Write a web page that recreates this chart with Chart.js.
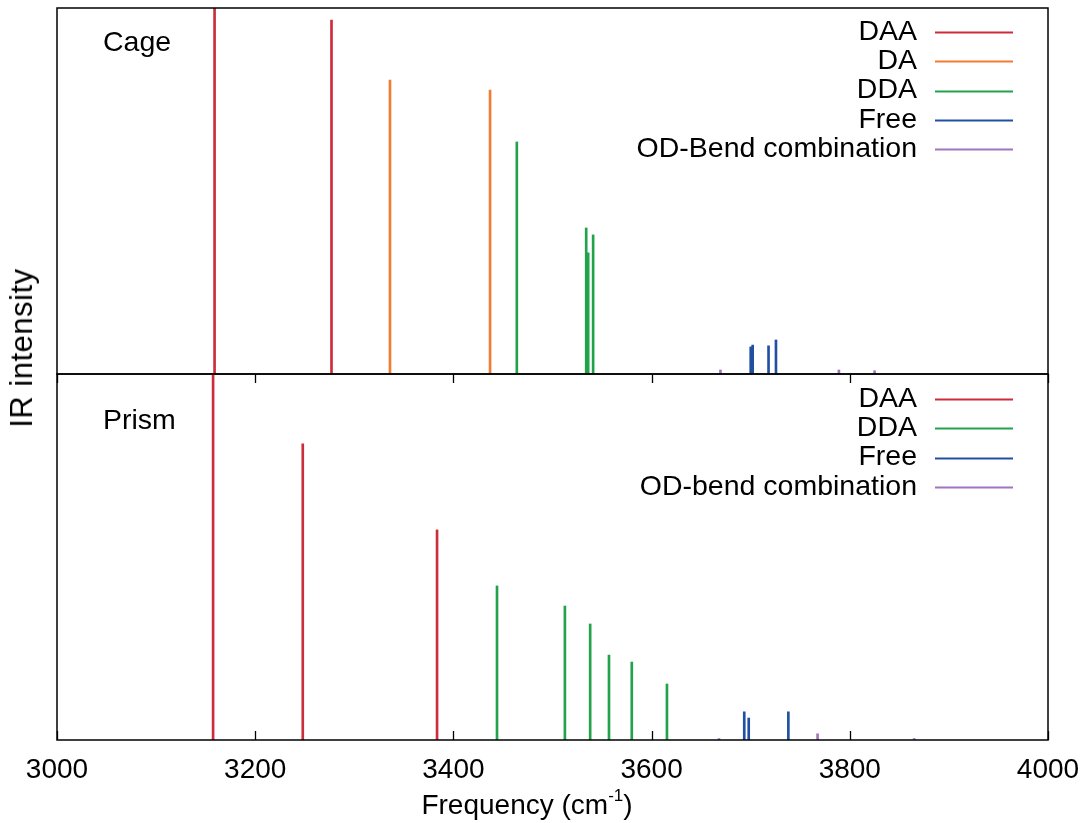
<!DOCTYPE html>
<html>
<head>
<meta charset="utf-8">
<script src="https://cdn.jsdelivr.net/npm/chart.js@4/dist/chart.umd.min.js"></script>
<style>
  body { margin: 0; background: #fff; }
  #wrap { position: relative; width: 1089px; height: 823px; font-family: "Liberation Sans", Arial, sans-serif; }
  canvas { position: absolute; left: 0; }
  #ylab { position: absolute; left: 22px; top: 348px; transform: translate(-50%, -50%) rotate(-90deg); font-size: 31px; letter-spacing: 0.5px; white-space: nowrap; color: #000; }
  #xlab { position: absolute; left: 527px; top: 805px; transform: translate(-50%, -50%); font-size: 28px; white-space: nowrap; color: #000; }
  #xlab sup { font-size: 17px; position: relative; top: -3px; }
</style>
</head>
<body>
<div id="wrap">
  <canvas id="top" width="1089" height="376" style="top:0"></canvas>
  <canvas id="bot" width="1089" height="451" style="top:372px"></canvas>
  <div id="ylab">IR intensity</div>
  <div id="xlab">Frequency (cm<sup>-1</sup>)</div>
</div>
<script>
// axe x commun
const xMin = 3000;
const xMax = 4000;
const xStep = 200;

// Cage
const cageDaaFreq = [3159, 3277];
const cageDaaInt = [1.0, 0.967];
const cageDaFreq = [3336, 3437];
const cageDaInt = [0.803, 0.776];
const cageDdaFreq = [3464, 3534, 3536, 3541];
const cageDdaInt = [0.634, 0.399, 0.331, 0.380];
const cageFreeFreq = [3700, 3702, 3718, 3725.5];
const cageFreeInt = [0.074, 0.079, 0.077, 0.093];
const cageBendFreq = [3669.5, 3789, 3825];
const cageBendInt = [0.011, 0.011, 0.009];

// Prism
const prismDaaFreq = [3157.5, 3248, 3383.5];
const prismDaaInt = [1.0, 0.809, 0.574];
const prismDdaFreq = [3444, 3512.5, 3538, 3557, 3580, 3615.5];
const prismDdaInt = [0.421, 0.366, 0.317, 0.232, 0.213, 0.153];
const prismFreeFreq = [3693.5, 3698, 3738];
const prismFreeInt = [0.077, 0.060, 0.077];
const prismBendFreq = [3668, 3767.5, 3865];
const prismBendInt = [0.004, 0.017, 0.004];

const cageLabels = ['DAA', 'DA', 'DDA', 'Free', 'OD-Bend combination'];
const prismLabels = ['DAA', 'DDA', 'Free', 'OD-bend combination'];

const colDAA = '#cc2d3b';
const colDA = '#f07d35';
const colDDA = '#22a24b';
const colFree = '#2150a3';
const colBend = '#a274be';

const fontName = '"Liberation Sans", Arial, sans-serif';

function serie(label, freq, vals, color) {
  return {
    label: label,
    data: freq.map((f, i) => ({ x: f, y: vals[i] })),
    backgroundColor: color,
    borderWidth: 0,
    barThickness: 2,
    grouped: false
  };
}

// cadre, ticks, texte du panneau et legende
function panelPlugin(title, titleY, legendY, drawTicks) {
  return {
    id: 'panel',
    afterDraw(chart) {
      const ctx = chart.ctx;
      const a = chart.chartArea;
      const xs = chart.scales.x;
      ctx.save();
      ctx.strokeStyle = '#000';
      ctx.lineWidth = 1.5;
      ctx.strokeRect(a.left, a.top, a.right - a.left, a.bottom - a.top);
      if (drawTicks) {
        ctx.lineWidth = 1.3;
        xs.ticks.forEach(t => {
          const px = Math.round(xs.getPixelForValue(t.value)) + 0.5;
          ctx.beginPath();
          ctx.moveTo(px, a.bottom); ctx.lineTo(px, a.bottom - 9);
          ctx.moveTo(px, a.top); ctx.lineTo(px, a.top + 9);
          ctx.stroke();
        });
      }
      ctx.fillStyle = '#000';
      ctx.font = '28.5px ' + fontName;
      ctx.textBaseline = 'middle';
      ctx.textAlign = 'left';
      ctx.fillText(title, 103, titleY);
      ctx.textAlign = 'right';
      chart.data.datasets.forEach((ds, i) => {
        const y = legendY + i * 29.3;
        ctx.fillStyle = '#000';
        ctx.fillText(ds.label, 917, y);
        ctx.strokeStyle = ds.backgroundColor;
        ctx.lineWidth = 2;
        ctx.beginPath();
        ctx.moveTo(935, Math.round(y) + 0.5);
        ctx.lineTo(1013, Math.round(y) + 0.5);
        ctx.stroke();
      });
      ctx.restore();
    }
  };
}

function baseOptions(pad, showX) {
  return {
    responsive: false,
    devicePixelRatio: 1,
    animation: false,
    layout: { padding: pad },
    plugins: { legend: { display: false }, tooltip: { enabled: false } },
    scales: {
      x: {
        type: 'linear',
        min: xMin,
        max: xMax,
        offset: false,
        display: showX,
        grid: { display: false, drawTicks: false, offset: false },
        border: { display: false },
        ticks: {
          stepSize: xStep,
          color: '#000',
          padding: 13,
          maxRotation: 0,
          font: { family: fontName, size: 28 },
          callback: v => String(v)
        },
        afterFit(scale) {
          if (showX) scale.height = 83;
          scale.paddingLeft = 0;
          scale.paddingRight = 0;
        }
      },
      y: { min: 0, max: 1, display: false }
    }
  };
}

new Chart(document.getElementById('top'), {
  type: 'bar',
  data: {
    datasets: [
      serie(cageLabels[0], cageDaaFreq, cageDaaInt, colDAA),
      serie(cageLabels[1], cageDaFreq, cageDaInt, colDA),
      serie(cageLabels[2], cageDdaFreq, cageDdaInt, colDDA),
      serie(cageLabels[3], cageFreeFreq, cageFreeInt, colFree),
      serie(cageLabels[4], cageBendFreq, cageBendInt, colBend)
    ]
  },
  options: baseOptions({ left: 57, right: 41, top: 8, bottom: 2 }, false),
  plugins: [panelPlugin('Cage', 43, 32, false)]
});

new Chart(document.getElementById('bot'), {
  type: 'bar',
  data: {
    datasets: [
      serie(prismLabels[0], prismDaaFreq, prismDaaInt, colDAA),
      serie(prismLabels[1], prismDdaFreq, prismDdaInt, colDDA),
      serie(prismLabels[2], prismFreeFreq, prismFreeInt, colFree),
      serie(prismLabels[3], prismBendFreq, prismBendInt, colBend)
    ]
  },
  options: baseOptions({ left: 57, right: 41, top: 2, bottom: 0 }, true),
  plugins: [panelPlugin('Prism', 49, 27, true)]
});
</script>
</body>
</html>
